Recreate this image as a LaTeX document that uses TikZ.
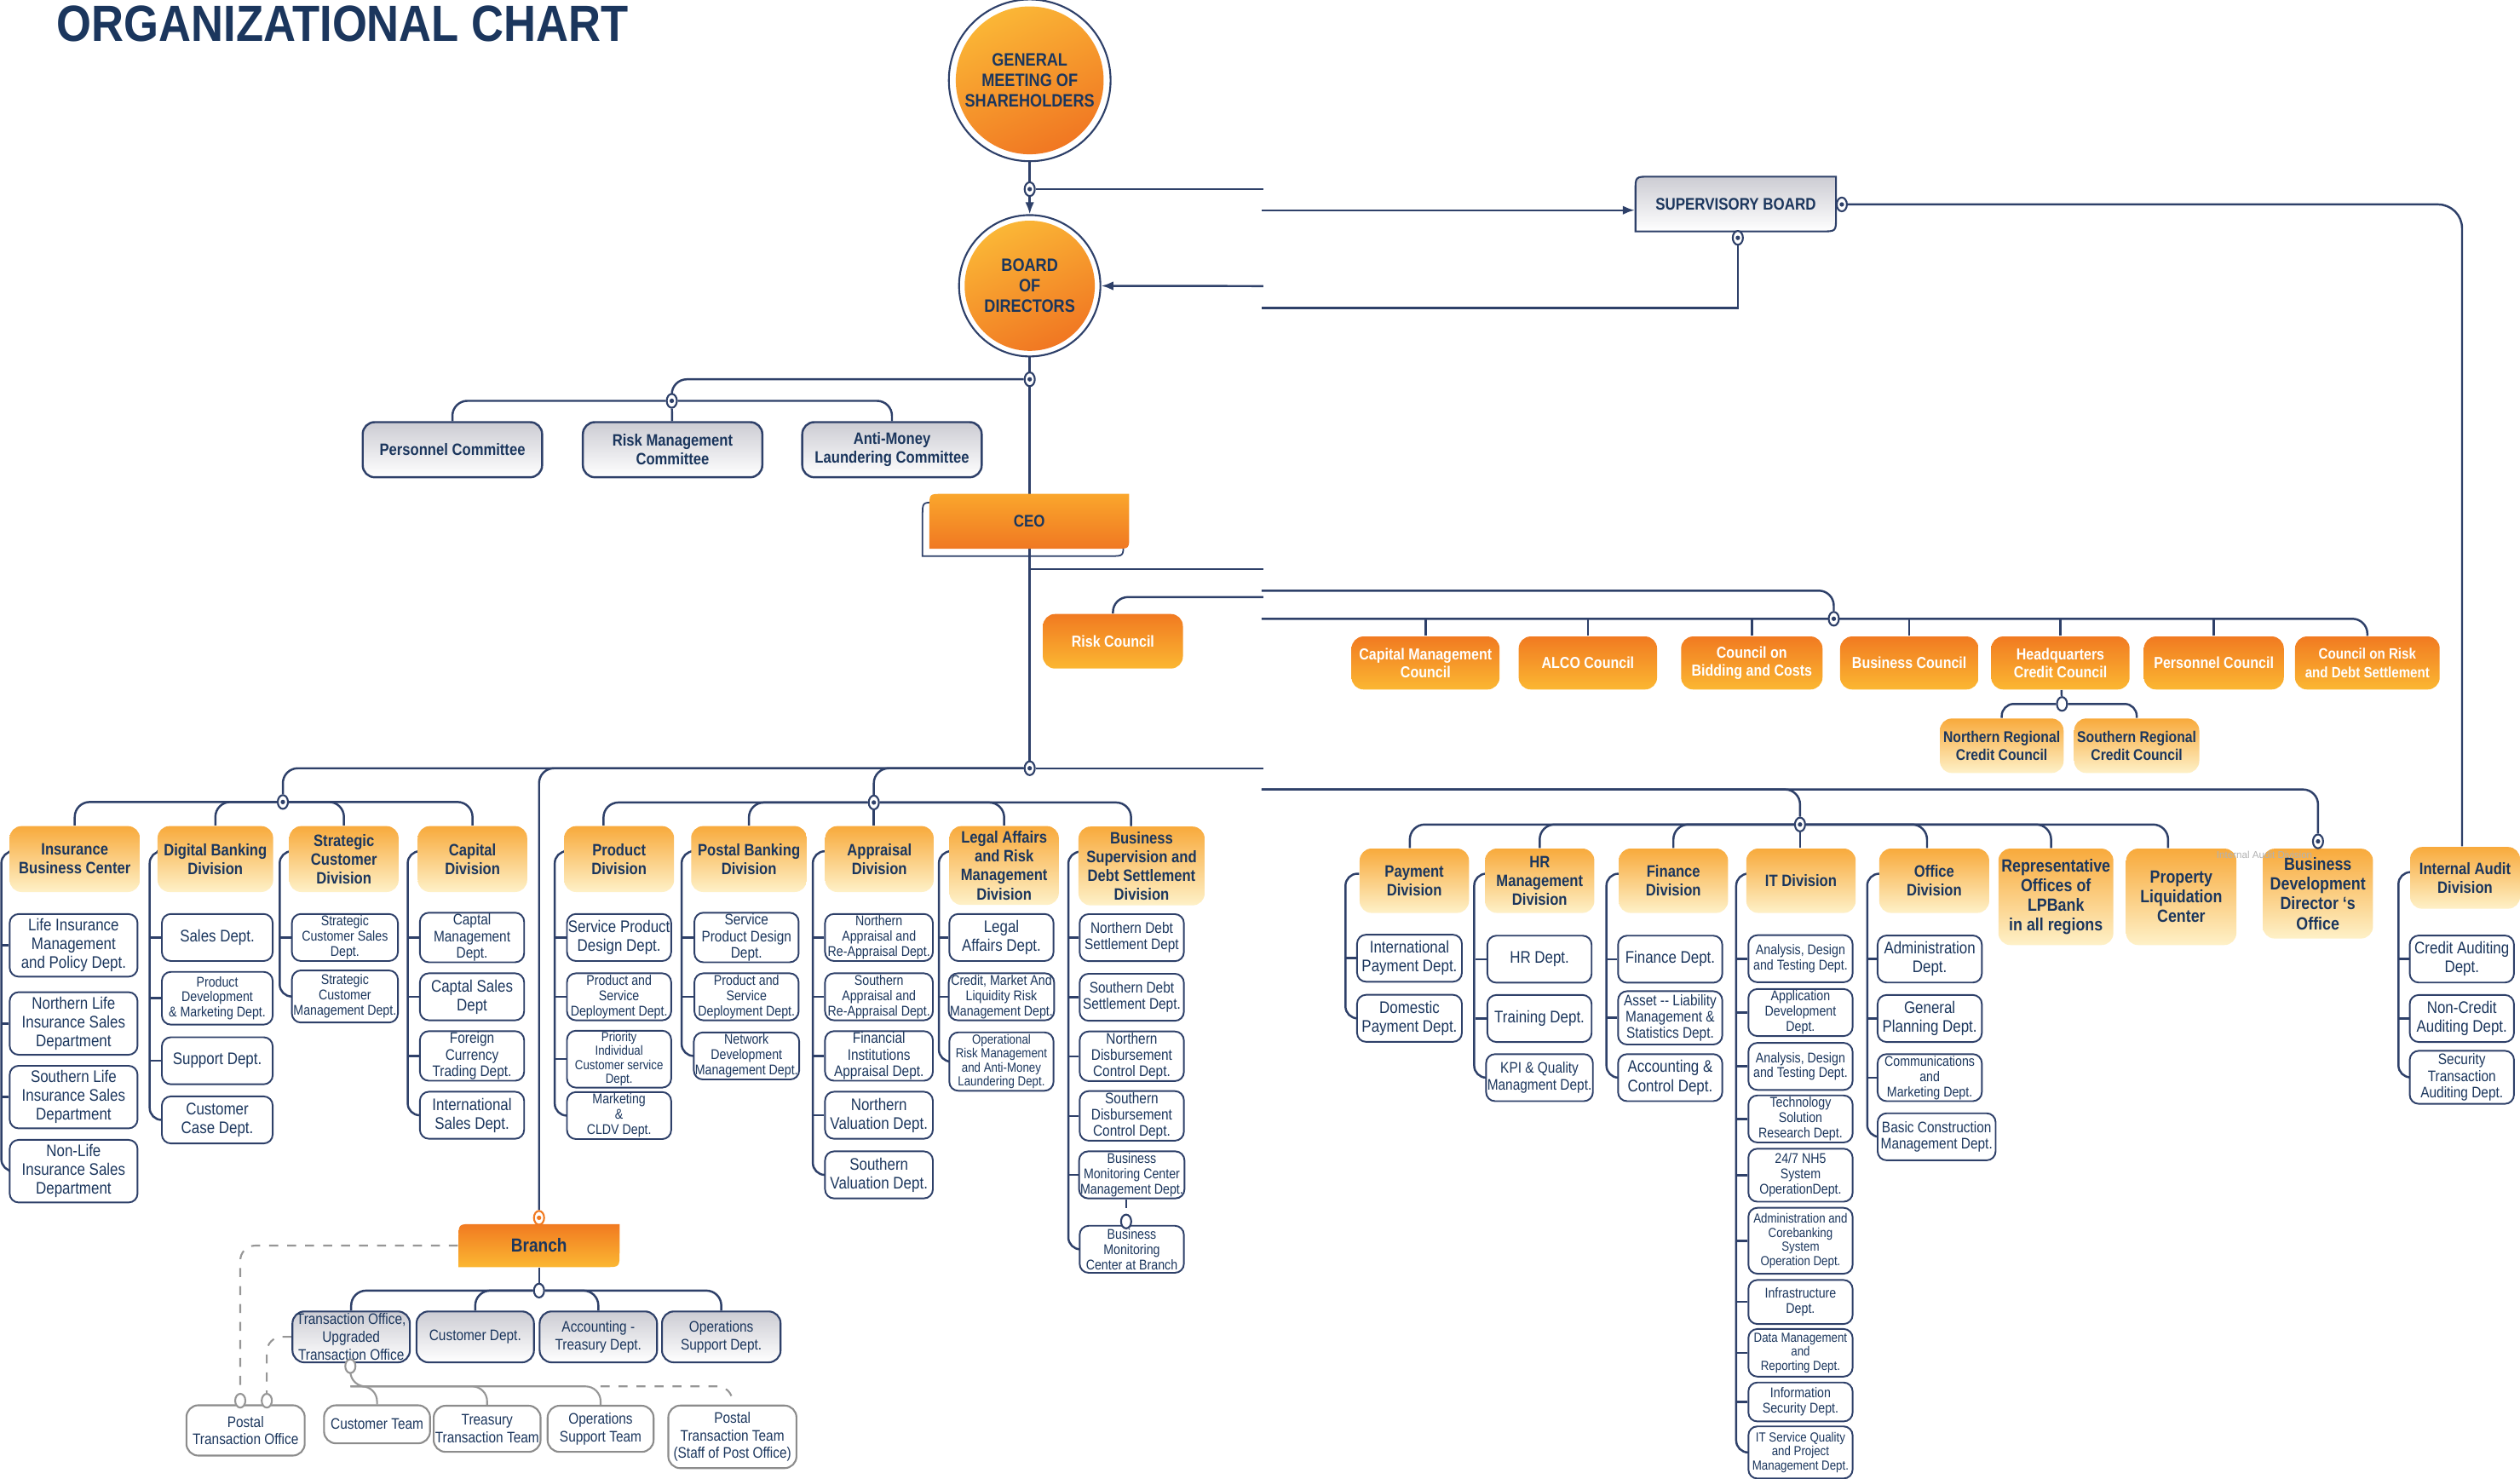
\documentclass[tikz,border=0pt]{standalone}
\usepackage{fontspec}
\setmainfont{Liberation Sans}
\newfontfamily\condfont[FakeStretch=0.86]{Liberation Sans}
\newfontfamily\titlefont[FakeStretch=0.88]{Liberation Sans}
\usetikzlibrary{arrows.meta,shapes.geometric,backgrounds}
\definecolor{navy}{RGB}{27,54,93}
\definecolor{lineC}{RGB}{46,64,105}
\definecolor{orD}{RGB}{241,122,33}
\definecolor{orL}{RGB}{251,183,50}
\definecolor{divTop}{RGB}{248,170,60}
\definecolor{divBot}{RGB}{254,241,200}
\definecolor{grTop}{RGB}{204,204,211}
\definecolor{gLine}{RGB}{150,150,150}
\definecolor{gBox}{RGB}{140,140,140}
\definecolor{ceoTop}{RGB}{250,166,44}
\definecolor{ceoBot}{RGB}{240,120,34}
\definecolor{gmA}{RGB}{251,185,55}
\definecolor{gmB}{RGB}{240,116,33}
\newcommand{\leafpath}[5]{(#1,#4) -- (#1,#2+#5) .. controls (#1,#2) .. (#1+#5,#2) -- (#3,#2) -- (#3,#4-#5) .. controls (#3,#4) .. (#3-#5,#4) -- cycle}
\begin{document}
\begin{tikzpicture}[x=0.018865cm, y=-0.018865cm,
  conn/.style={draw=lineC, line width=0.7pt},
  gconn/.style={draw=gLine, line width=0.6pt},
  arr/.style={-{Latex[length=4pt,width=3pt]}},
  port/.style={ellipse, draw=lineC, fill=white, line width=0.6pt, minimum width=3.4pt, minimum height=4.6pt, inner sep=0pt, path picture={\fill[lineC] (path picture bounding box.center) circle (0.75pt);}},
  oport/.style={port, draw=orD, path picture={\fill[orD] (path picture bounding box.center) circle (0.75pt);}},
  hport/.style={ellipse, draw=#1, fill=white, line width=0.6pt, minimum width=3.4pt, minimum height=4.6pt, inner sep=0pt},
  hport/.default=lineC,
  head/.style 2 args={circle, draw=lineC, line width=0.6pt, fill=white, minimum size=#1, inner sep=0pt, text=navy, align=center, font=\fontsize{6}{6.8}\condfont\bfseries, path picture={\shade[top color=gmA, bottom color=gmB, shading angle=25] (path picture bounding box.center) circle (#2);}},
  committee/.style={draw=lineC, line width=0.7pt, rounded corners=4pt, top color=grTop, bottom color=white, text=navy, align=center, minimum width=59.9pt, minimum height=18.4pt, inner sep=1pt, font=\fontsize{5.5}{6.3}\condfont\bfseries},
  council/.style={rounded corners=4pt, top color=orD, bottom color=orL, text=white, align=center, minimum width=#1, minimum height=17.7pt, inner sep=1pt, font=\fontsize{5.3}{6.1}\condfont\bfseries},
  council/.default=46.2pt,
  regional/.style={rounded corners=4pt, top color=divTop, bottom color=divBot, text=navy, align=center, minimum width=41.3pt, minimum height=18.2pt, inner sep=1pt, font=\fontsize{5.2}{6}\condfont\bfseries},
  divi/.style={rounded corners=4pt, top color=divTop, bottom color=divBot, text=navy, align=center, minimum width=#1, minimum height=22pt, inner sep=1pt, font=\fontsize{5.5}{6.3}\condfont\bfseries},
  divi/.default=36.5pt,
  dbold/.style={font=\fontsize{5.9}{6.6}\condfont\bfseries},
  dept/.style={draw=lineC, line width=0.55pt, rounded corners=3pt, fill=white, text=navy, align=center, minimum width=#1, minimum height=15.7pt, inner sep=0.4pt, font=\fontsize{5.1}{5.5}\condfont},
  dept/.default=34.8pt,
  dbig/.style={font=\fontsize{5.6}{6.3}\condfont},
  dsm/.style={font=\fontsize{4.7}{5.1}\condfont},
  dxs/.style={font=\fontsize{4.4}{4.7}\condfont},
  brdept/.style={draw=lineC, line width=0.6pt, rounded corners=4pt, top color=grTop, bottom color=white, text=navy, align=center, minimum width=#1, minimum height=17pt, inner sep=0.5pt, font=\fontsize{5.1}{5.9}\condfont},
  brdept/.default=39.2pt,
  team/.style={draw=gBox, line width=0.6pt, rounded corners=4pt, fill=white, text=navy, align=center, minimum width=#1, inner sep=0.5pt, font=\fontsize{5.1}{5.9}\condfont},
  team/.default=35.4pt,
  leaftext/.style={text=navy, inner sep=0pt, font=\fontsize{5.6}{6.4}\condfont\bfseries}]
\useasboundingbox (0,0) rectangle (1568,920);

\node[anchor=north west, inner sep=0pt, text=navy, font=\fontsize{17}{20}\titlefont\bfseries] (title) at (35,3) {ORGANIZATIONAL CHART};

\node[head={54pt}{46}] (gm) at (640.7,50) {GENERAL\\MEETING OF\\SHAREHOLDERS};
\node[head={47.2pt}{40.5}] (bod) at (640.7,177.8) {BOARD\\OF\\DIRECTORS};
\node[port] (gmP) at (640.7,117.7) {};
\node[port] (bodP) at (640.7,236) {};

\shade[top color=grTop, bottom color=white, draw=lineC, line width=0.6pt] \leafpath{1017.6}{109.9}{1142.4}{144}{9};
\node[leaftext, minimum width=67pt, minimum height=18.3pt, font=\fontsize{5.6}{6}\condfont\bfseries] (sup) at (1080,127) {SUPERVISORY BOARD};
\node[port] (supR) at (1146,127.2) {};
\node[port] (supB) at (1081.3,148) {};
\coordinate (jA1) at (786,117.7);
\coordinate (jA2) at (785,130.8);
\coordinate (jB1) at (786,178);
\coordinate (jB2) at (785,191.7);

\node[port] (comP) at (418,249.4) {};
\node[committee] (comPer) at (281.5,279.8) {Personnel Committee};
\node[committee] (comRisk) at (418.5,279.8) {Risk Management\\Committee};
\node[committee] (comAml) at (555,279.8) {Anti-Money\\Laundering Committee};

\draw[lineC, line width=0.5pt] \leafpath{574}{312.6}{699}{346}{8};
\shade[top color=ceoTop, bottom color=ceoBot] \leafpath{578.3}{307.3}{702.6}{341.4}{8};
\node[leaftext, minimum width=66.7pt, minimum height=18.3pt] (ceo) at (640.5,324.4) {CEO};

\coordinate (jC0) at (640.7,354);
\coordinate (jC1) at (786,354);
\coordinate (jC2) at (785,367.5);
\coordinate (jD1) at (786,371.5);
\coordinate (jD2) at (785,385);
\node[council=46.7pt, minimum height=18.2pt] (riskC) at (692.5,399) {Risk Council};
\node[port] (councilP) at (1141,385) {};
\node[council=49.4pt] (cCap) at (887,412.5) {Capital Management\\Council};
\node[council] (cAlco) at (988,412.5) {ALCO Council};
\node[council=47.2pt] (cBid) at (1090,412.5) {Council on\\Bidding and Costs};
\node[council] (cBus) at (1188,412.5) {Business Council};
\node[council] (cHq) at (1282,412.5) {Headquarters\\Credit Council};
\node[council=46.7pt] (cPer) at (1377.5,412.5) {Personnel Council};
\node[council=48.3pt, font=\fontsize{5}{6}\condfont\bfseries] (cRd) at (1473,412.5) {Council on Risk\\and Debt Settlement};
\node[hport] (hqP) at (1283,438) {};
\node[regional] (nrc) at (1245.5,464) {Northern Regional\\Credit Council};
\node[regional] (src) at (1329.5,464) {Southern Regional\\Credit Council};

\node[port] (mainP) at (640.7,478) {};
\coordinate (jE1) at (786,478);
\coordinate (jE2) at (785,491.2);
\node[port] (hubL) at (176,499) {};
\node[port] (hubM) at (543.7,499.3) {};
\node[port] (hubR) at (1120,513) {};

\node[divi=43.5pt] (insD) at (46.5,534.5) {Insurance\\Business Center};
\node[divi=38.6pt] (digD) at (134,534.5) {Digital Banking\\Division};
\node[divi] (strD) at (214,534.5) {Strategic\\Customer\\Division};
\node[divi] (capD) at (294,534.5) {Capital\\Division};
\node[divi=36.7pt] (prodD) at (385.2,534.5) {Product\\Division};
\node[divi=38.6pt] (posD) at (466,534.5) {Postal Banking\\Division};
\node[divi=36.2pt] (appD) at (547.2,534.5) {Appraisal\\Division};
\node[divi, minimum height=26.3pt] (legD) at (624.8,538.5) {Legal Affairs\\and Risk\\Management\\Division};
\node[divi=42.1pt, minimum height=26.3pt] (bsD) at (710.3,538.8) {Business\\Supervision and\\Debt Settlement\\Division};
\node[divi, minimum height=21.5pt] (payD) at (880,548) {Payment\\Division};
\node[divi, minimum height=21.5pt] (hrD) at (958,548) {HR\\Management\\Division};
\node[divi, minimum height=21.5pt] (finD) at (1041.2,548) {Finance\\Division};
\node[divi, minimum height=21.5pt] (itD) at (1120.6,548) {IT Division};
\node[divi=36.7pt, minimum height=21.5pt] (offD) at (1203.5,548) {Office\\Division};
\node[divi=37.3pt, minimum height=32.2pt, dbold] (repD) at (1279.2,558) {Representative\\Offices of\\LPBank\\in all regions};
\node[divi=36.8pt, minimum height=32.2pt, dbold] (proD) at (1357.2,558) {Property\\Liquidation\\Center};
\node[divi=36.8pt, minimum height=30pt, dbold] (bizD) at (1442.2,556) {Business\\Development\\Director ‘s\\Office};
\node[port] (bizP) at (1442.3,523.5) {};
\node[text=black!30, inner sep=0pt, font=\fontsize{3.3}{3.5}\rmfamily] (faint) at (1409,532) {Internal Audit Division};
\node[divi=36.7pt, minimum height=20.6pt] (iaD) at (1533.8,546.2) {Internal Audit\\Division};

\node[dept=42.7pt, dbig, minimum height=20.9pt] (ins1) at (45.8,588.2) {Life Insurance\\Management\\and Policy Dept.};
\node[dept=42.7pt, dbig, minimum height=20.9pt] (ins2) at (45.8,636.8) {Northern Life\\Insurance Sales\\Department};
\node[dept=42.7pt, dbig, minimum height=20.9pt] (ins3) at (45.8,682.6) {Southern Life\\Insurance Sales\\Department};
\node[dept=42.7pt, dbig, minimum height=20.9pt] (ins4) at (45.8,728.7) {Non-Life\\Insurance Sales\\Department};

\node[dept=37pt, dbig] (dig1) at (135.2,583.3) {Sales Dept.};
\node[dept=37pt, dsm, minimum height=17.6pt] (dig2) at (135.2,621.1) {Product\\Development\\\& Marketing Dept.};
\node[dept=37pt, dbig] (dig3) at (135.2,660) {Support Dept.};
\node[dept=37pt, dbig] (dig4) at (135.2,696.8) {Customer\\Case Dept.};

\node[dept=35.4pt, dsm] (str1) at (214.6,583.3) {Strategic\\Customer Sales\\Dept.};
\node[dept=35.4pt, dsm, minimum height=17.4pt] (str2) at (214.6,620) {Strategic\\Customer\\Management Dept.};

\node[dept] (cap1) at (293.7,583.3) {Captal\\Management\\Dept.};
\node[dept, dbig] (cap2) at (293.7,620.2) {Captal Sales\\Dept};
\node[dept] (cap3) at (293.7,657) {Foreign\\Currency\\Trading Dept.};
\node[dept, dbig] (cap4) at (293.7,693.9) {International\\Sales Dept.};

\node[dept, dbig] (pro1) at (385.2,583.3) {Service Product\\Design Dept.};
\node[dept, dsm] (pro2) at (385.2,620.2) {Product and\\Service\\Deployment Dept.};
\node[dept, dxs, minimum height=18pt] (pro3) at (385.2,659) {Priority\\Individual\\Customer service\\Dept.};
\node[dept, dsm] (pro4) at (385.2,694.1) {Marketing\\\&\\CLDV Dept.};

\node[dept] (pos1) at (464.5,583.3) {Service\\Product Design\\Dept.};
\node[dept, dsm] (pos2) at (464.5,620.2) {Product and\\Service\\Deployment Dept.};
\node[dept, dsm] (pos3) at (464.5,657) {Network\\Development\\Management Dept.};

\node[dept=36pt, dsm] (app1) at (546.9,583.3) {Northern\\Appraisal and\\Re-Appraisal Dept.};
\node[dept=36pt, dsm] (app2) at (546.9,620.2) {Southern\\Appraisal and\\Re-Appraisal Dept.};
\node[dept=36pt] (app3) at (546.9,657) {Financial\\Institutions\\Appraisal Dept.};
\node[dept=36pt, dbig] (app4) at (546.9,693.9) {Northern\\Valuation Dept.};
\node[dept=36pt, dbig] (app5) at (546.9,731) {Southern\\Valuation Dept.};

\node[dept, dbig] (leg1) at (623.1,583.3) {Legal\\Affairs Dept.};
\node[dept, dsm] (leg2) at (623.1,620.2) {Credit, Market And\\Liquidity Risk\\Management Dept.};
\node[dept, dxs, minimum height=19.5pt] (leg3) at (623.1,660.5) {Operational\\Risk Management\\and Anti-Money\\Laundering Dept.};

\node[dept] (bs1) at (704.2,583.4) {Northern Debt\\Settlement Dept};
\node[dept] (bs2) at (704.2,620.5) {Southern Debt\\Settlement Dept.};
\node[dept] (bs3) at (704.2,657.2) {Northern\\Disbursement\\Control Dept.};
\node[dept] (bs4) at (704.2,694.3) {Southern\\Disbursement\\Control Dept.};
\node[dept, dsm] (bs5) at (704.2,731) {Business\\Monitoring Center\\Management Dept.};
\node[dept, dsm] (bs6) at (704.2,777.3) {Business\\Monitoring\\Center at Branch};
\node[hport] (bmcP) at (700.7,760) {};

\node[dept=35pt, dbig] (pay1) at (877,596.2) {International\\Payment Dept.};
\node[dept=35pt, dbig] (pay2) at (877,633.6) {Domestic\\Payment Dept.};

\node[dept, dbig] (hr1) at (957.9,596.8) {HR Dept.};
\node[dept, dbig] (hr2) at (957.9,633.7) {Training Dept.};
\node[dept] (hr3) at (957.9,670.5) {KPI \& Quality\\Managment Dept.};

\node[dept, dbig] (fin1) at (1039.2,596.8) {Finance Dept.};
\node[dept, minimum height=17.8pt] (fin2) at (1039.2,633.3) {Asset -- Liability\\Management \&\\Statistics Dept.};
\node[dept, dbig] (fin3) at (1039.2,670.5) {Accounting \&\\Control Dept.};

\node[dept, dsm] (it1) at (1120.3,596.5) {Analysis, Design\\and Testing Dept.};
\node[dept, dsm] (it2) at (1120.3,630) {Application\\Development\\Dept.};
\node[dept, dsm] (it3) at (1120.3,663.5) {Analysis, Design\\and Testing Dept.};
\node[dept, dsm] (it4) at (1120.3,696.2) {Technology\\Solution\\Research Dept.};
\node[dept, dsm, minimum height=17.7pt] (it5) at (1120.3,731.2) {24/7 NH5\\System\\OperationDept.};
\node[dept, dxs, minimum height=22pt] (it6) at (1120.3,772) {Administration and\\Corebanking\\System\\Operation Dept.};
\node[dept, dsm, minimum height=14.7pt] (it7) at (1120.3,810.1) {Infrastructure\\Dept.};
\node[dept, dxs, minimum height=15.9pt] (it8) at (1120.3,841.7) {Data Management\\and\\Reporting Dept.};
\node[dept, dsm, minimum height=13pt] (it9) at (1120.3,872.3) {Information\\Security Dept.};
\node[dept, dxs, minimum height=17.4pt] (it10) at (1120.3,903.7) {IT Service Quality\\and Project\\Management Dept.};

\node[dept, dbig] (off1) at (1200.7,596.7) {Administration\\Dept.};
\node[dept, dbig] (off2) at (1200.7,633.7) {General\\Planning Dept.};
\node[dept, dsm] (off3) at (1200.7,670.5) {Communications\\and\\Marketing Dept.};
\node[dept=39.4pt] (off4) at (1205,707.3) {Basic Construction\\Management Dept.};

\node[dept, dbig] (ia1) at (1531.8,596.7) {Credit Auditing\\Dept.};
\node[dept, dbig] (ia2) at (1531.8,633.7) {Non-Credit\\Auditing Dept.};
\node[dept, minimum height=17.7pt] (ia3) at (1531.8,670.3) {Security\\Transaction\\Auditing Dept.};

\node[oport] (brP) at (335.4,757.7) {};
\shade[top color=orD, bottom color=orL] \leafpath{285.3}{761.6}{385.5}{788.4}{9};
\node[leaftext, minimum width=53.8pt, minimum height=14.4pt, font=\fontsize{6.3}{7}\condfont\bfseries] (branch) at (335.4,775) {Branch};
\node[hport] (brS) at (335.4,803) {};
\node[brdept] (toB) at (218.5,831.8) {Transaction Office,\\Upgraded\\Transaction Office};
\node[brdept] (cdB) at (295.7,831.8) {Customer Dept.};
\node[brdept] (atB) at (372.3,831.8) {Accounting -\\Treasury Dept.};
\node[brdept=39.6pt] (osB) at (448.8,831.8) {Operations\\Support Dept.};
\node[hport=gLine] (toP) at (218,850) {};
\coordinate (teamL) at (218,862.6);
\node[team=39.5pt, minimum height=16.8pt] (pto) at (152.8,890) {Postal\\Transaction Office};
\node[team, minimum height=12.7pt] (ct) at (234.6,886.2) {Customer Team};
\node[team=35.5pt, minimum height=15.4pt] (ttt) at (303.1,889) {Treasury\\Transaction Team};
\node[team, minimum height=15.4pt] (ost) at (373.7,889) {Operations\\Support Team};
\node[team=42.8pt, minimum height=20.9pt] (ptt) at (455.7,894) {Postal\\Transaction Team\\(Staff of Post Office)};
\node[hport=gLine] (ptoP1) at (149.5,871.5) {};
\node[hport=gLine] (ptoP2) at (166,871.5) {};

\begin{scope}[on background layer]
\fill[white] (0,0) rectangle (1568,920);
\draw[conn, arr] (gm) -- (bod);
\draw[conn] (gmP) -- (jA1);
\draw[conn, arr] (jA2) -- (jA2 -| sup.west);
\draw[conn] (supB) |- (jB2);
\draw[conn, arr] (jB1) -- (bod);
\draw[conn, rounded corners=8pt] (supR) -| ([xshift=-1pt]iaD.north);
\draw[conn] (bod) -- (mainP);
\draw[conn, rounded corners=5pt] (bodP) -| (comP);
\draw[conn, rounded corners=5pt] (comPer.north) |- (comP) -| (comAml.north);
\draw[conn] (comP) -- (comRisk);
\draw[conn] (jC0) -- (jC1);
\draw[conn, rounded corners=5pt] (jC2) -| (councilP);
\draw[conn, rounded corners=5pt] (riskC.north) |- (jD1);
\draw[conn, rounded corners=5pt] (jD2) -| (cRd.north);
\foreach \n in {cCap,cAlco,cBid,cBus,cHq,cPer}
  \draw[conn] (\n.north) -- (\n.north |- jD2);
\draw[conn] (cHq) -- (hqP);
\draw[conn, rounded corners=4pt] (nrc.north) |- (hqP) -| (src.north);
\draw[conn] (mainP) -- (jE1);
\draw[conn, rounded corners=5pt] (jE2) -| (hubR);
\draw[conn, rounded corners=5pt] (jE2) -| (bizP);
\draw[conn, rounded corners=5pt] (mainP) -| (hubL);
\draw[conn, rounded corners=5pt] (mainP) -| (hubM);
\draw[conn, rounded corners=5pt] (mainP) -| (brP);
\draw[conn, rounded corners=5pt] (insD.north) |- (hubL) -| (capD.north);
\draw[conn, rounded corners=5pt] (digD.north) |- (hubL) -| (strD.north);
\draw[conn, rounded corners=5pt] ([xshift=-5.2pt]prodD.north) |- (hubM) -| ([xshift=-3.5pt]bsD.north);
\draw[conn, rounded corners=5pt] (posD.north) |- (hubM) -| (legD.north);
\draw[conn] (hubM) -- (hubM |- appD.north);
\draw[conn, rounded corners=5pt] ([xshift=-1.5pt]payD.north) |- (hubR) -| ([xshift=-4.4pt]proD.north);
\draw[conn, rounded corners=5pt] (hrD.north) |- (hubR) -| ([xshift=-2.4pt]offD.north);
\draw[conn, rounded corners=5pt] (finD.north) |- (hubR) -| ([xshift=-1.6pt]repD.north);
\draw[conn] (hubR) -- (hubR |- itD.north);
\draw[conn, rounded corners=4pt] ([yshift=-8.6pt]insD.north west) -| ([xshift=-2.5pt]ins4.west) -- (ins4.west);
\draw[conn, rounded corners=4pt] ([yshift=-8.6pt]digD.north west) -| ([xshift=-3.8pt]dig4.west) -- (dig4.west);
\draw[conn, rounded corners=4pt] ([yshift=-8.6pt]strD.north west) -| ([xshift=-3.8pt]str2.west) -- (str2.west);
\draw[conn, rounded corners=4pt] ([yshift=-8.6pt]capD.north west) -| ([xshift=-3.8pt]cap4.west) -- (cap4.west);
\draw[conn, rounded corners=4pt] ([yshift=-8.6pt]prodD.north west) -| ([xshift=-3.8pt]pro4.west) -- (pro4.west);
\draw[conn, rounded corners=4pt] ([yshift=-8.6pt]posD.north west) -| ([xshift=-3.8pt]pos3.west) -- (pos3.west);
\draw[conn, rounded corners=4pt] ([yshift=-8.6pt]appD.north west) -| ([xshift=-3.8pt]app5.west) -- (app5.west);
\draw[conn, rounded corners=4pt] ([yshift=-8.6pt]legD.north west) -| ([xshift=-3.2pt]leg3.west) -- (leg3.west);
\draw[conn, rounded corners=4pt] ([yshift=-8.6pt]bsD.north west) -| ([xshift=-3.5pt]bs6.west) -- (bs6.west);
\draw[conn, rounded corners=4pt] ([yshift=-8.6pt]payD.north west) -| ([xshift=-3.6pt]pay2.west) -- (pay2.west);
\draw[conn, rounded corners=4pt] ([yshift=-8.6pt]hrD.north west) -| ([xshift=-3.7pt]hr3.west) -- (hr3.west);
\draw[conn, rounded corners=4pt] ([yshift=-8.6pt]finD.north west) -| ([xshift=-3.6pt]fin3.west) -- (fin3.west);
\draw[conn, rounded corners=4pt] ([yshift=-8.6pt]itD.north west) -| ([xshift=-3.8pt]it10.west) -- (it10.west);
\draw[conn, rounded corners=4pt] ([yshift=-8.6pt]offD.north west) -| ([xshift=-3.2pt]off4.west) -- (off4.west);
\draw[conn, rounded corners=4pt] ([yshift=-8.6pt]iaD.north west) -| ([xshift=-3.5pt]ia3.west) -- (ia3.west);
\foreach \n in {ins1,ins2,ins3}
  \draw[conn] (\n.west) -- ++(-2.5pt,0);
\foreach \n in {dig1,dig2,dig3,str1,cap1,cap2,cap3,pro1,pro2,pro3,pos1,pos2,app1,app2,app3,app4,it1,it2,it3,it4,it5,it6,it7,it8,it9}
  \draw[conn] (\n.west) -- ++(-3.8pt,0);
\foreach \n in {leg1,leg2,off1,off2,off3}
  \draw[conn] (\n.west) -- ++(-3.2pt,0);
\foreach \n in {bs1,bs2,bs3,bs4,bs5,pay1,hr1,hr2,fin1,fin2,ia1,ia2}
  \draw[conn] (\n.west) -- ++(-3.6pt,0);
\draw[conn, dashed] (bmcP |- bs5.south) -- (bmcP);
\draw[conn] (brP) -- (branch);
\draw[conn] (branch) -- (brS);
\draw[conn, rounded corners=5pt] (toB.north) |- (brS) -| (osB.north);
\draw[conn, rounded corners=5pt] (cdB.north) |- (brS) -| (atB.north);
\draw[gconn, rounded corners=5pt] (toP) -- (teamL) -| (ct.north);
\draw[gconn, rounded corners=5pt] (teamL) -| (ttt.north);
\draw[gconn, rounded corners=5pt] (teamL) -| (ost.north);
\draw[gconn, dashed, rounded corners=5pt] (ost.north |- teamL) -| (ptt.north);
\draw[gconn, dashed, rounded corners=5pt] (branch.west) -| (ptoP1);
\draw[gconn, dashed, rounded corners=5pt] (toB.west) -| (ptoP2);
\end{scope}
\end{tikzpicture}
\end{document}
